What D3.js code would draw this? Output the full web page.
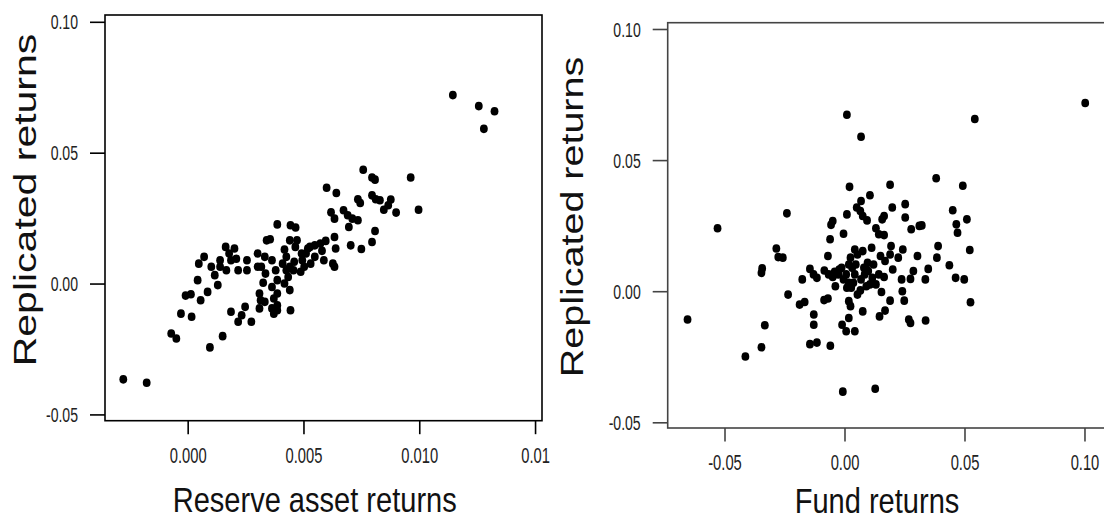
<!DOCTYPE html>
<html><head><meta charset="utf-8">
<script src="https://cdn.jsdelivr.net/npm/d3@7"></script>
<style>html,body{margin:0;padding:0;background:#fff;overflow:hidden}</style>
</head><body>
<svg id="chart" width="1104" height="524"></svg>
<script>
// ---- Data ----
// Left panel: [reserve asset return, replicated return]
const reserveX = [0.01145,0.01257,0.01325,0.01279,-0.00278,-0.00177,
0.00758,0.00796,0.00809,0.00963,0.0060,0.00642,0.00735,0.00745,0.00796,0.00812,0.00830,0.00877,0.00866,0.00847,0.00900,0.00997,
0.00619,0.00673,0.00634,0.00691,0.00711,0.00735,0.00696,0.00809,0.00796,0.00704,0.00750,0.00634,0.00639,0.00596,0.00573,0.00549,0.00528,
0.00580,0.00588,0.00627,0.00634,0.00549,0.00511,0.00495,0.00503,0.00488,0.00457,0.00441,0.00465,0.00441,0.00472,0.00444,0.00466,0.00387,
0.00341,0.00356,0.00418,0.00426,0.00410,0.00426,0.00434,0.00418,0.00441,0.00444,0.00364,0.00333,0.00302,0.00302,0.00318,0.00336,0.00380,
0.00387,0.00326,0.00364,0.00310,0.00387,0.00315,0.00333,0.00372,0.00310,0.00364,0.00387,0.00372,0.00387,
0.00256,0.00256,0.00164,0.00202,0.00179,0.00210,0.00187,0.00140,0.00140,0.00167,0.00218,0.00102,0.00117,0.00130,0.00071,0.00048,0.00043,
0.00086,0.00056,-0.00009,0.00014,-0.00029,0.00017,-0.00071,-0.00049,0.00096,0.00151,0.00187,0.00218,0.00233,0.00248,0.00275,
0.00519,0.00492,0.00531,0.00460];
const replicatedL = [0.0720,0.0678,0.0658,0.0591,-0.0366,-0.0379,
0.0435,0.0405,0.0397,0.0405,0.0366,0.0346,0.0322,0.0308,0.0337,0.0322,0.0318,0.0321,0.0299,0.0282,0.0271,0.0282,
0.0272,0.0280,0.0248,0.0261,0.0248,0.0242,0.0216,0.0201,0.0159,0.0146,0.0132,0.0178,0.0134,0.0163,0.0153,0.0146,0.0140,
0.0125,0.0089,0.0076,0.0064,0.0102,0.0115,0.0089,0.0064,0.0045,0.0051,0.0064,0.0140,0.0165,0.0165,0.0223,0.0214,0.0226,
0.0165,0.0169,0.0130,0.0102,0.0076,0.0051,0.0025,0.0000,-0.0025,-0.0102,0.0089,0.0102,0.0115,0.0064,0.0064,0.0038,0.0051,
0.0013,0.0003,-0.0013,-0.0038,-0.0038,-0.0064,-0.0070,-0.0057,-0.0095,-0.0095,-0.0083,-0.0115,-0.0102,
0.0089,0.0051,0.0140,0.0134,0.0115,0.0095,0.0089,0.0089,0.0064,0.0051,0.0051,0.0064,0.0032,-0.0006,0.0102,0.0076,0.0013,
-0.0032,-0.0064,-0.0046,-0.0041,-0.0115,-0.0127,-0.0191,-0.0210,-0.0244,-0.0201,-0.0108,-0.0146,-0.0121,-0.0089,-0.0146,
0.0134,0.0115,0.0076,0.0083];

// Right panel: [fund return, replicated return]
const fundX = [0.1003,0.0010,0.0543,0.0069,-0.0529,-0.0654,-0.0240,0.0382,0.0493,0.0021,0.0190,0.0106,0.0069,0.0051,0.0066,0.0076,0.0094,
0.0010,0.0199,0.0253,0.0165,0.0157,0.0253,0.0451,0.0510,0.0466,0.0471,0.0312,0.0322,0.0278,-0.0049,-0.0056,-0.0004,0.0131,0.0143,0.0165,
-0.0060,0.0390,0.0522,-0.0284,-0.0276,-0.0257,-0.0343,-0.0346,-0.0176,-0.0235,-0.0187,-0.0166,-0.0144,-0.0129,-0.0115,-0.0084,-0.0066,
-0.0069,-0.0038,-0.0085,-0.0069,-0.0128,-0.0128,-0.0332,-0.0346,-0.0413,-0.0144,-0.0115,-0.0059,-0.0007,0.0128,-0.0010,0.0007,0.0043,
0.0018,0.0025,0.0018,0.0076,0.0146,0.0169,0.0190,0.0154,0.0241,0.0249,0.0238,0.0268,0.0275,0.0338,0.0525,0.0463,0.0499,0.0437,0.0385,
0.0349,0.0337,0.0304,0.0287,0.0275,0.0243,0.0224,0.0194,0.0190,0.0201,0.0169,0.0150,0.0113,0.0143,0.0165,0.0121,0.0099,0.0116,0.0091,
0.0066,0.0054,0.0069,0.0043,0.0047,0.0054,0.0043,0.0076,0.0025,0.0018,0.0032,-0.0012,-0.0026,-0.0022,0.0007,-0.0004,0.0018,0.0037,
0.0010,0.0028,-0.0049,-0.0041,0.0096,0.0081,0.0084,0.0106,0.0131];
const replicatedR = [0.0718,0.0673,0.0657,0.0589,0.0240,-0.0108,0.0297,0.0431,0.0402,0.0398,0.0406,0.0366,0.0344,0.0319,0.0306,0.0287,0.0270,
0.0293,0.0319,0.0332,0.0287,0.0274,0.0281,0.0309,0.0274,0.0255,0.0223,0.0249,0.0251,0.0236,0.0268,0.0253,0.0219,0.0240,0.0217,0.0214,
0.0198,0.0172,0.0157,0.0163,0.0130,0.0128,0.0087,0.0070,0.0045,-0.0013,-0.0051,-0.0041,0.0085,0.0064,0.0051,0.0079,0.0064,
0.0134,0.0019,-0.0034,-0.0028,-0.0089,-0.0128,-0.0130,-0.0214,-0.0249,-0.0202,-0.0196,-0.0208,-0.0383,-0.0372,-0.0128,-0.0153,-0.0153,
-0.0102,-0.0057,-0.0038,-0.0077,-0.0096,-0.0074,-0.0036,-0.0003,0.0000,-0.0036,0.0045,-0.0108,-0.0121,-0.0112,-0.0042,0.0051,0.0045,0.0099,0.0128,
0.0085,0.0045,0.0134,0.0077,0.0047,0.0159,0.0128,0.0172,0.0140,0.0083,0.0115,0.0134,0.0166,0.0064,0.0054,0.0102,0.0077,0.0051,0.0019,
0.0003,-0.0013,0.0045,0.0064,0.0102,0.0140,0.0159,0.0153,0.0128,0.0102,0.0089,0.0089,0.0064,0.0083,0.0064,0.0045,0.0032,0.0032,
0.0013,0.0013,0.0054,0.0074,0.0108,0.0089,0.0064,0.0026,0.0026];

// Ticks
const leftXTicks = [0, 0.005, 0.010, 0.015];
const leftXLabels = ["0.000", "0.005", "0.010", "0.01"];
const yTicks = [-0.05, 0, 0.05, 0.10];
const yLabels = ["-0.05", "0.00", "0.05", "0.10"];
const rightXTicks = [-0.05, 0, 0.05, 0.10];
const rightXLabels = ["-0.05", "0.00", "0.05", "0.10"];

const titles = {
  leftX: "Reserve asset returns", leftY: "Replicated returns",
  rightX: "Fund returns", rightY: "Replicated returns"
};

// ---- Drawing ----
const svg = d3.select("#chart");
const FONT = "'Liberation Sans', Arial, sans-serif";

function panel(cfg) {
  const x = d3.scaleLinear().domain(cfg.xDomain).range([cfg.left, cfg.right]);
  const y = d3.scaleLinear().domain(cfg.yDomain).range([cfg.bottom, cfg.top]);
  const g = svg.append("g");
  const col = cfg.color;

  // points
  g.append("g").selectAll("ellipse")
    .data(cfg.xs.map((v, i) => [v, cfg.ys[i]]))
    .join("ellipse")
    .attr("cx", d => x(d[0])).attr("cy", d => y(d[1]))
    .attr("rx", 3.9).attr("ry", 4.3)
    .attr("fill", "#000");

  // box
  g.append("rect")
    .attr("x", cfg.left).attr("y", cfg.top)
    .attr("width", cfg.right - cfg.left).attr("height", cfg.bottom - cfg.top)
    .attr("fill", "none").attr("stroke", col).attr("stroke-width", 1.6);

  const sx = 0.67;
  // y axis
  const ya = g.append("g").attr("transform", `translate(${cfg.left},0)`)
    .call(d3.axisLeft(y).tickValues(yTicks).tickFormat((d, i) => yLabels[i]).tickSize(15).tickSizeOuter(0));
  ya.attr("font-size", null).attr("font-family", null);
  ya.select(".domain").remove();
  ya.selectAll(".tick line").attr("stroke", col).attr("stroke-width", 1.6);
  ya.selectAll(".tick text")
    .attr("x", null).attr("dy", null)
    .attr("transform", `translate(-27,0) scale(${sx},1)`)
    .attr("dominant-baseline", "central")
    .style("font-family", FONT).style("font-size", "21px").attr("fill", "#222");

  // x axis
  const xa = g.append("g").attr("transform", `translate(0,${cfg.bottom})`)
    .call(d3.axisBottom(x).tickValues(cfg.xTicks).tickFormat((d, i) => cfg.xLabels[i]).tickSize(13.5).tickSizeOuter(0));
  xa.attr("font-size", null).attr("font-family", null);
  xa.select(".domain").remove();
  xa.selectAll(".tick line").attr("stroke", col).attr("stroke-width", 1.6);
  xa.selectAll(".tick text")
    .attr("y", null).attr("dy", null)
    .attr("transform", `translate(0,42) scale(${sx},1)`)
    .style("font-family", FONT).style("font-size", "22px").attr("fill", "#222");

  // titles
  g.append("text").text(cfg.xTitle)
    .attr("transform", `translate(${cfg.xTitlePos[0]},${cfg.xTitlePos[1]}) scale(0.83,1)`)
    .attr("text-anchor", "middle")
    .style("font-family", FONT).style("font-size", "35px").attr("fill", "#111");
  g.append("text").text(cfg.yTitle)
    .attr("transform", `translate(${cfg.yTitlePos[0]},${cfg.yTitlePos[1]}) rotate(-90) scale(1,${cfg.yTitleSq})`)
    .attr("text-anchor", "middle")
    .style("font-family", FONT).style("font-size", cfg.yTitleSize + "px").attr("fill", "#111");
}

panel({
  xs: reserveX, ys: replicatedL,
  left: 105, right: 542, top: 15, bottom: 420.7,
  xDomain: [-0.00357, 0.0153], yDomain: [-0.0524, 0.1026],
  xTicks: leftXTicks, xLabels: leftXLabels,
  color: "#000",
  xTitle: titles.leftX, xTitlePos: [314.7, 512],
  yTitle: titles.leftY, yTitlePos: [35.5, 200], yTitleSize: 41, yTitleSq: 0.78
});

panel({
  xs: fundX, ys: replicatedR,
  left: 667.7, right: 1108, top: 22.7, bottom: 428,
  xDomain: [-0.07367, 0.1098], yDomain: [-0.05217, 0.1024],
  xTicks: rightXTicks, xLabels: rightXLabels,
  color: "#444",
  xTitle: titles.rightX, xTitlePos: [877, 513],
  yTitle: titles.rightY, yTitlePos: [582.5, 217], yTitleSize: 39.5, yTitleSq: 0.8
});
</script>
</body></html>
